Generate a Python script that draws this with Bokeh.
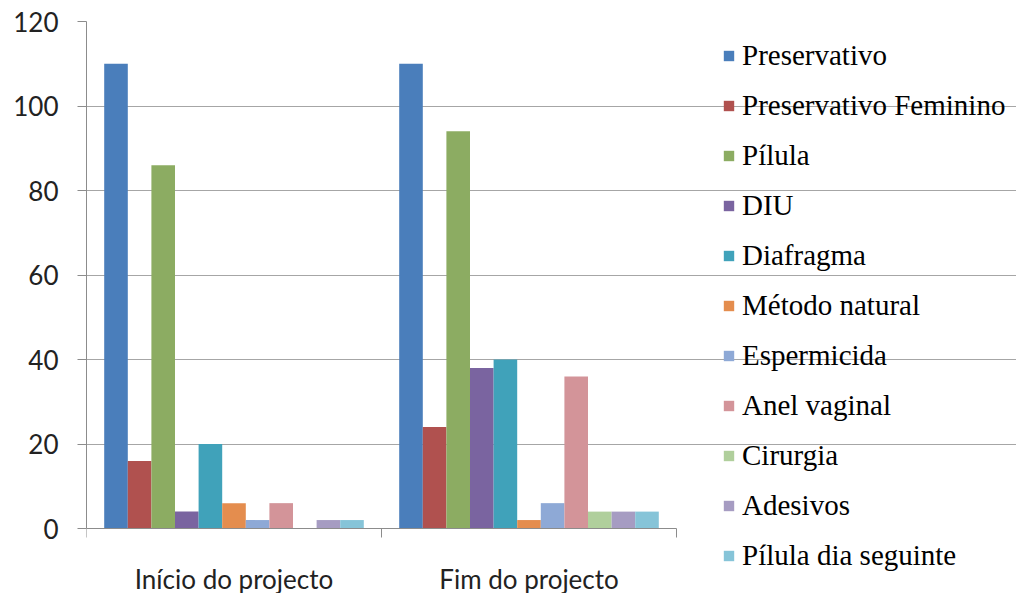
from bokeh.plotting import figure
from bokeh.models import (ColumnDataSource, Range1d, FixedTicker, Legend, LegendItem)
from bokeh.core.properties import value
from bokeh.transform import dodge
from bokeh.embed import file_html
from bokeh.resources import INLINE

groups = ["Início do projecto", "Fim do projecto"]
series = ["Preservativo", "Preservativo Feminino", "Pílula", "DIU", "Diafragma",
          "Método natural", "Espermicida", "Anel vaginal", "Cirurgia", "Adesivos",
          "Pílula dia seguinte"]
preservativo = [110, 110]
preservativo_feminino = [16, 24]
pilula = [86, 94]
diu = [4, 38]
diafragma = [20, 40]
metodo_natural = [6, 2]
espermicida = [2, 6]
anel_vaginal = [6, 36]
cirurgia = [0, 4]
adesivos = [2, 4]
pilula_dia_seguinte = [2, 4]
y_ticks = [0, 20, 40, 60, 80, 100, 120]

values = [preservativo, preservativo_feminino, pilula, diu, diafragma, metodo_natural,
          espermicida, anel_vaginal, cirurgia, adesivos, pilula_dia_seguinte]
colors = ["#4A7EBB", "#B0514F", "#8CAC62", "#7A64A0", "#40A2BA", "#E48D4E",
          "#8EA9D6", "#D39499", "#B0CF9C", "#A69CC2", "#86C4D8"]

# layout constants (pixels)
W, H = 1016, 593
LEFT, TOP = 86, 21
PLOT_W, PLOT_H = 590, 507          # area of the bar chart itself
Y_MAX = 120
px_per_y = PLOT_H / Y_MAX
x_end = len(groups) * (W - LEFT) / PLOT_W
y_start = -(H - TOP - PLOT_H) / px_per_y
tick_len = 9 / px_per_y
label_y = -50 / px_per_y

centers = [i + 0.5 for i in range(len(groups))]
bounds = list(range(len(groups) + 1))
data = {"group": groups, "xc": centers}
for i, v in enumerate(values):
    data[f"s{i}"] = v
source = ColumnDataSource(data)

p = figure(width=W, height=H, x_range=Range1d(0, x_end),
           y_range=Range1d(y_start, Y_MAX), output_backend="svg", toolbar_location=None,
           x_axis_location=None, min_border_left=LEFT, min_border_right=0,
           min_border_top=TOP, min_border_bottom=0)
p.outline_line_color = None
p.background_fill_color = "white"
p.border_fill_color = "white"

bw = 0.08
items = []
n = len(series)
for i, name in enumerate(series):
    off = (i - (n - 1) / 2) * bw
    r = p.vbar(x=dodge("xc", off), top=f"s{i}", width=bw,
               source=source, fill_color=colors[i], line_color=None)
    items.append(LegendItem(label=name, renderers=[r]))

# y axis
ya = p.yaxis[0]
ya.ticker = FixedTicker(ticks=y_ticks)
ya.bounds = (0, Y_MAX)
ya.major_label_text_font = "Lato"
ya.major_label_text_font_size = "26px"
ya.major_label_text_color = "#222222"
ya.axis_line_color = "#8C8C8C"
ya.major_tick_line_color = "#8C8C8C"
ya.major_tick_out = 9
ya.major_tick_in = 0
ya.minor_tick_line_color = None
ya.major_label_standoff = 19

p.xgrid.grid_line_color = None
p.ygrid.grid_line_color = "#A6A6A6"
p.ygrid.ticker = FixedTicker(ticks=y_ticks[1:])
p.ygrid.bounds = (0, len(groups))

# category axis: line at 0, boundary ticks, centred labels
p.segment(x0=0, y0=0, x1=len(groups), y1=0, line_color="#8C8C8C", line_width=1)
p.segment(x0=bounds, y0=[0] * len(bounds), x1=bounds, y1=[-tick_len] * len(bounds),
          line_color="#8C8C8C", line_width=1)
p.text(x="xc", y=label_y, text="group", source=source, text_align="center",
       text_baseline="middle", text_font=value("Lato"), text_font_size="26px",
       text_color="#222222")

legend = Legend(items=items, location=(636, 21), orientation="vertical",
                label_text_font="'Liberation Serif'", label_text_font_size="29px",
                label_text_color="#000000", glyph_width=13, glyph_height=13,
                label_standoff=7, spacing=17, padding=0, margin=0,
                border_line_color=None, background_fill_alpha=0)
p.add_layout(legend, "center")

open("out.html", "w").write(file_html(p, INLINE))
